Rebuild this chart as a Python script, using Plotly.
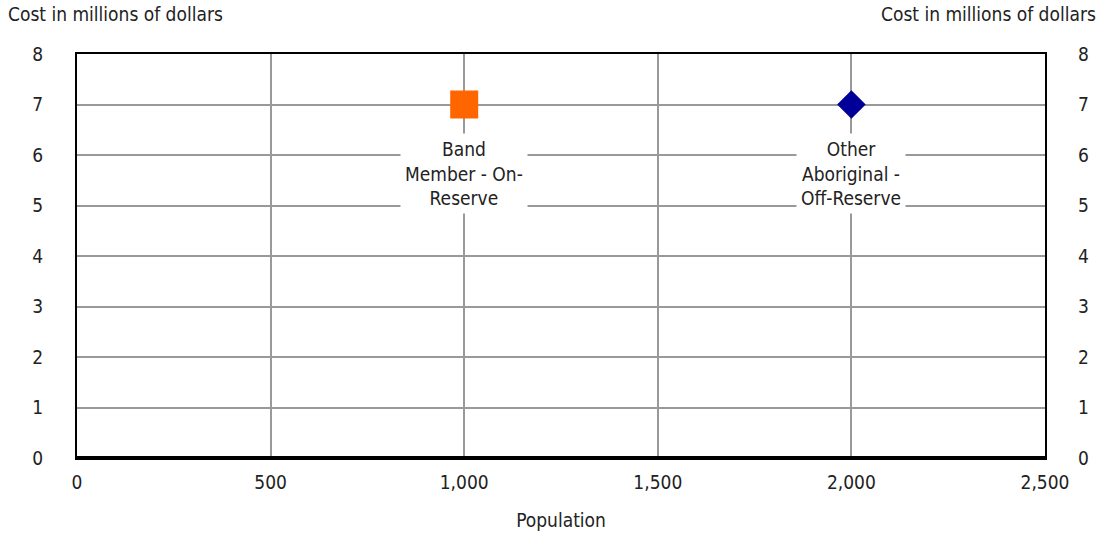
import plotly.graph_objects as go

categories = ["Band<br>Member - On-<br>Reserve", "Other<br>Aboriginal -<br>Off-Reserve"]
population = [1000, 2000]
cost = [7, 7]
symbols = ["square", "diamond"]
colors = ["#FF6600", "#000099"]
sizes = [28, 22]

x_ticks = [0, 500, 1000, 1500, 2000, 2500]
x_ticktext = ["0", "500", "1,000", "1,500", "2,000", "2,500"]
y_ticks = [0, 1, 2, 3, 4, 5, 6, 7, 8]

FONT = "DejaVu Sans Condensed, Liberation Sans Narrow, Roboto, sans-serif"
FS = 19
TXT = "#222222"

fig = go.Figure()
for i in range(len(categories)):
    fig.add_trace(go.Scatter(
        x=[population[i]], y=[cost[i]], mode="markers",
        marker=dict(symbol=symbols[i], color=colors[i], size=sizes[i], line=dict(width=0)),
        showlegend=False, hoverinfo="skip"))
    fig.add_annotation(x=population[i], y=cost[i], xref="x", yref="y",
                       text=categories[i], showarrow=False, yanchor="top", yshift=-28,
                       bgcolor="white", borderpad=4,
                       font=dict(family=FONT, size=FS, color=TXT))

# invisible trace for right axis
fig.add_trace(go.Scatter(x=[0], y=[0], yaxis="y2", mode="markers",
                         marker=dict(opacity=0), showlegend=False, hoverinfo="skip"))

fig.update_layout(
    width=1106, height=533,
    margin=dict(l=77, r=61, t=54, b=75, autoexpand=False),
    paper_bgcolor="white", plot_bgcolor="white",
    font=dict(family=FONT, size=FS, color=TXT),
    xaxis=dict(range=[0, 2500], tickvals=x_ticks, ticktext=x_ticktext,
               showgrid=True, gridcolor="#999999", gridwidth=2,
               zeroline=False, showline=True, linecolor="black", linewidth=2, mirror=True,
               ticks="", ticklabelstandoff=6, automargin=False,
               title=dict(text="Population", standoff=22, font=dict(family=FONT, size=FS))),
    yaxis=dict(range=[0, 8], tickvals=y_ticks,
               showgrid=True, gridcolor="#999999", gridwidth=2,
               zeroline=False, showline=True, linecolor="black", linewidth=2, mirror=True,
               ticks="", ticklabelstandoff=28, automargin=False),
    yaxis2=dict(range=[0, 8], tickvals=y_ticks, overlaying="y", side="right",
                showgrid=False, zeroline=False, showline=False, ticks="",
                ticklabelstandoff=32, automargin=False),
)

# thick bottom axis line
fig.add_shape(type="line", xref="paper", yref="paper", x0=0, x1=1, y0=0, y1=0,
              line=dict(color="black", width=4))

fig.add_annotation(xref="paper", yref="paper", x=-71/968, y=1, yshift=40,
                   xanchor="left", yanchor="middle", showarrow=False,
                   text="Cost in millions of dollars", font=dict(family=FONT, size=FS))
fig.add_annotation(xref="paper", yref="paper", x=1 + 53/968, y=1, yshift=40,
                   xanchor="right", yanchor="middle", showarrow=False,
                   text="Cost in millions of dollars", font=dict(family=FONT, size=FS))

fig.write_html("out.html", config={"displayModeBar": False},
               post_script="document.body.style.margin='0';")
